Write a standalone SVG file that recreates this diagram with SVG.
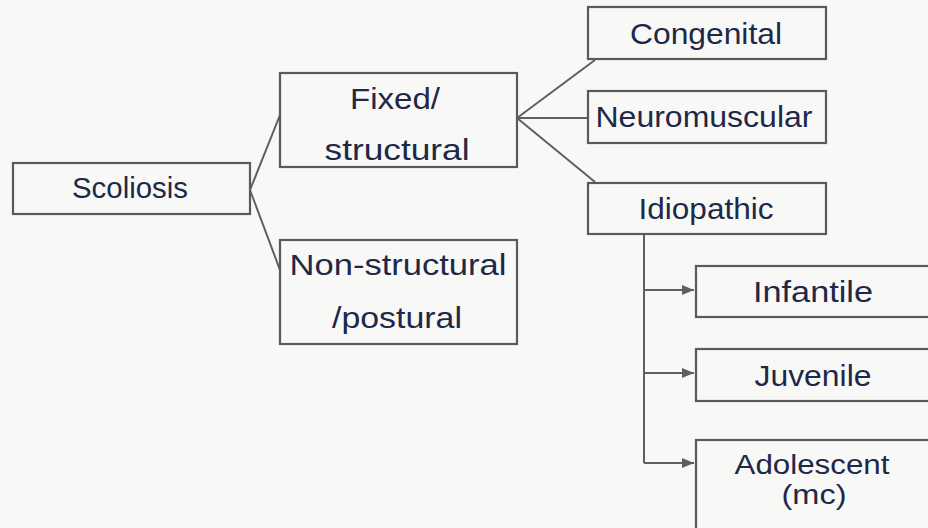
<svg xmlns="http://www.w3.org/2000/svg" width="928" height="528" viewBox="0 0 928 528">
<style>
.box{fill:none;stroke:#5a5a5c;stroke-width:2.2}
.t{font-family:"Liberation Sans",Arial,sans-serif;font-size:29px;fill:#1e2848;text-anchor:middle}
.s{font-size:27px}
.c{fill:none;stroke:#5f5f62;stroke-width:2}
</style>
<defs>
<marker id="ah" viewBox="0 0 12 10" refX="12" refY="5" markerWidth="12" markerHeight="10" markerUnits="userSpaceOnUse" orient="auto">
<path d="M0,0 L12,5 L0,10 Z" fill="#5f5f62"/>
</marker>
</defs>
<rect width="928" height="528" fill="#f8f8f6"/>
<g id="connectors">
<path class="c" d="M250,190 L280,115"/>
<path class="c" d="M250,190 L280,270"/>
<path class="c" d="M517,118 L595,60"/>
<path class="c" d="M517,118 L588,118"/>
<path class="c" d="M517,118 L595,182"/>
<path class="c" d="M644,234 L644,463"/>
<path class="c" d="M644,290 L694,290" marker-end="url(#ah)"/>
<path class="c" d="M644,373 L694,373" marker-end="url(#ah)"/>
<path class="c" d="M644,463 L694,463" marker-end="url(#ah)"/>
</g>
<g id="scoliosis">
<rect class="box" x="13" y="163" width="237" height="51"/>
<text class="t" x="130" y="198" textLength="116" lengthAdjust="spacingAndGlyphs">Scoliosis</text>
</g>
<g id="fixed">
<rect class="box" x="280" y="73" width="237" height="94"/>
<text class="t" x="395" y="109" textLength="90" lengthAdjust="spacingAndGlyphs">Fixed/</text>
<text class="t" x="397" y="160" textLength="145" lengthAdjust="spacingAndGlyphs">structural</text>
</g>
<g id="nonstructural">
<rect class="box" x="280" y="240" width="237" height="104"/>
<text class="t" x="398" y="275" textLength="217" lengthAdjust="spacingAndGlyphs">Non-structural</text>
<text class="t" x="397" y="328" textLength="130" lengthAdjust="spacingAndGlyphs">/postural</text>
</g>
<g id="congenital">
<rect class="box" x="588" y="7" width="238" height="52"/>
<text class="t" x="706" y="44" textLength="152" lengthAdjust="spacingAndGlyphs">Congenital</text>
</g>
<g id="neuromuscular">
<rect class="box" x="588" y="91" width="238" height="52"/>
<text class="t" x="704" y="127" textLength="217" lengthAdjust="spacingAndGlyphs">Neuromuscular</text>
</g>
<g id="idiopathic">
<rect class="box" x="588" y="183" width="238" height="51"/>
<text class="t" x="706" y="219" textLength="135" lengthAdjust="spacingAndGlyphs">Idiopathic</text>
</g>
<g id="infantile">
<rect class="box" x="696" y="266" width="240" height="51"/>
<text class="t" x="813" y="302" textLength="120" lengthAdjust="spacingAndGlyphs">Infantile</text>
</g>
<g id="juvenile">
<rect class="box" x="696" y="349" width="240" height="52"/>
<text class="t" x="813" y="386" textLength="117" lengthAdjust="spacingAndGlyphs">Juvenile</text>
</g>
<g id="adolescent">
<rect class="box" x="696" y="440" width="240" height="95"/>
<text class="t s" x="812" y="474" textLength="155" lengthAdjust="spacingAndGlyphs">Adolescent</text>
<text class="t s" x="814" y="504" textLength="65" lengthAdjust="spacingAndGlyphs">(mc)</text>
</g>
</svg>
